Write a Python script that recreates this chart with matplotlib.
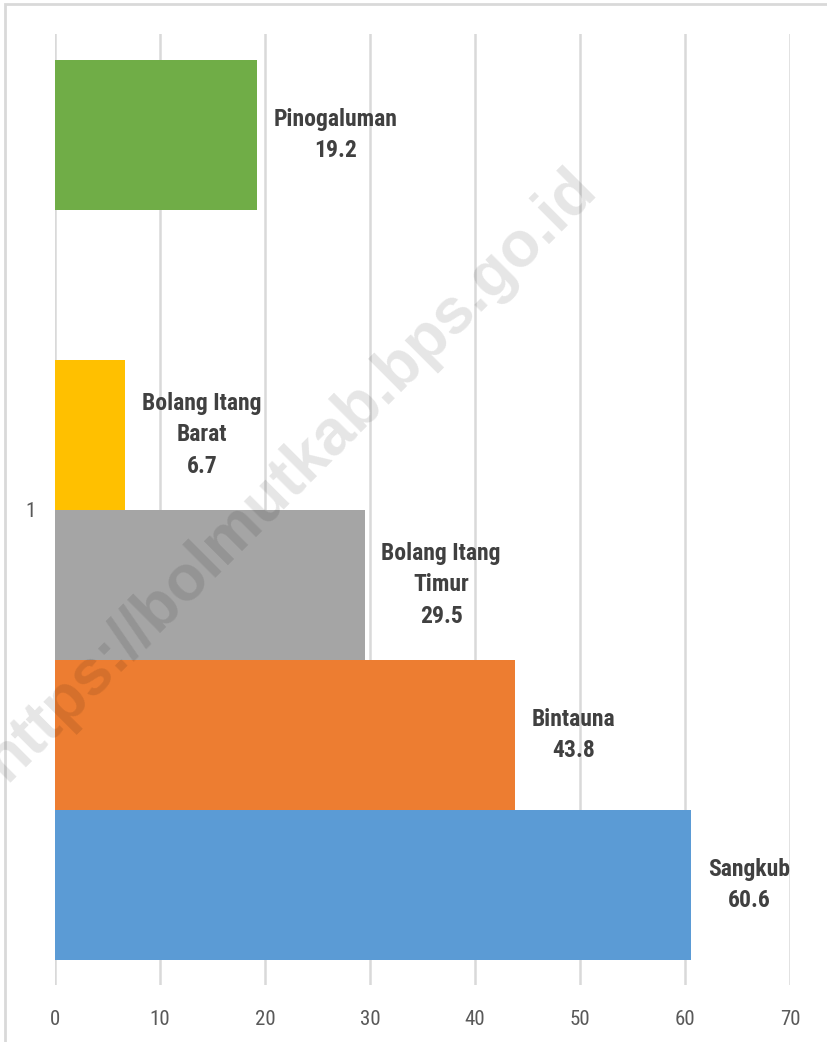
import matplotlib
matplotlib.use("Agg")
import matplotlib.pyplot as plt
from matplotlib import font_manager as fm
from matplotlib.patches import Rectangle
import numpy as np

# data, bottom to top (series order as drawn)
names = ["Sangkub", "Bintauna", "Bolang Itang\nTimur", "Bolang Itang\nBarat", "", "Pinogaluman"]
values = [60.6, 43.8, 29.5, 6.7, np.nan, 19.2]
colors = ["#5b9bd5", "#ed7d31", "#a5a5a5", "#ffc000", "#4472c4", "#70ad47"]
category = "1"
xticks = [0, 10, 20, 30, 40, 50, 60, 70]


def pick_condensed(bold):
    # look for a condensed / narrow face among the installed fonts
    best = None
    for f in fm.fontManager.ttflist:
        narrow = ("Condensed" in f.name or "Narrow" in f.name
                  or str(f.stretch) in ("condensed", "semi-condensed", "extra-condensed"))
        if not narrow or "Mono" in f.name or f.style != "normal":
            continue
        w = f.weight if isinstance(f.weight, int) else (700 if f.weight == "bold" else 400)
        if bold and w != 700:
            continue
        if not bold and w != 400:
            continue
        best = f.fname
        if "Noto Sans" in f.name or "Liberation" in f.name:
            break
    return best


fb = pick_condensed(True)
fr = pick_condensed(False)
lab_prop = fm.FontProperties(fname=fb, size=17) if fb else fm.FontProperties(family="Roboto", weight="bold", size=15)
tick_prop = fm.FontProperties(fname=fr, size=15) if fr else fm.FontProperties(family="Roboto", size=13)

W, H = 827, 1042
fig = plt.figure(figsize=(W / 100, H / 100), dpi=100)
fig.patch.set_facecolor("white")

# outer light border
fig.add_artist(Rectangle((5 / W, -0.1), 2.0, 1.1 - 4 / H, transform=fig.transFigure,
                         fill=False, edgecolor="#d9d9d9", linewidth=2))

ax = fig.add_axes([55 / W, 1 - 985 / H, (790 - 55) / W, (985 - 34) / H])
pos = np.arange(len(values))
for p, v, c in zip(pos, values, colors):
    if not np.isnan(v):
        ax.barh(p, v, height=1.0, color=c, zorder=2)

for p, v, n in zip(pos, values, names):
    if np.isnan(v):
        continue
    ax.annotate(f"{n}\n{v:.1f}", xy=(v, p), xytext=(12, 0), textcoords="offset points",
                ha="left", va="center", multialignment="center",
                fontproperties=lab_prop, color="#404040", linespacing=1.45, zorder=4)

ax.set_xlim(0, 70)
ax.set_ylim(-0.667, 5.673)
ax.set_xticks(xticks)
ax.set_xticklabels([str(t) for t in xticks], fontproperties=tick_prop, color="#595959")
ax.set_yticks([2.5])
ax.set_yticklabels([category], fontproperties=tick_prop, color="#595959")
ax.tick_params(length=0)
ax.tick_params(axis="x", pad=18)
ax.tick_params(axis="y", pad=14)
ax.grid(axis="x", color="#d9d9d9", linewidth=1.8, zorder=0)
for s in ax.spines.values():
    s.set_visible(False)

# watermark
fig.text(290 / W, 1 - 475 / H, "https://bolmutkab.bps.go.id", rotation=45,
         ha="center", va="center", fontsize=46, fontweight="bold",
         family=["Liberation Sans", "DejaVu Sans"], color="black", alpha=0.1,
         rotation_mode="anchor", zorder=10)

fig.savefig("out.png", dpi=100)
